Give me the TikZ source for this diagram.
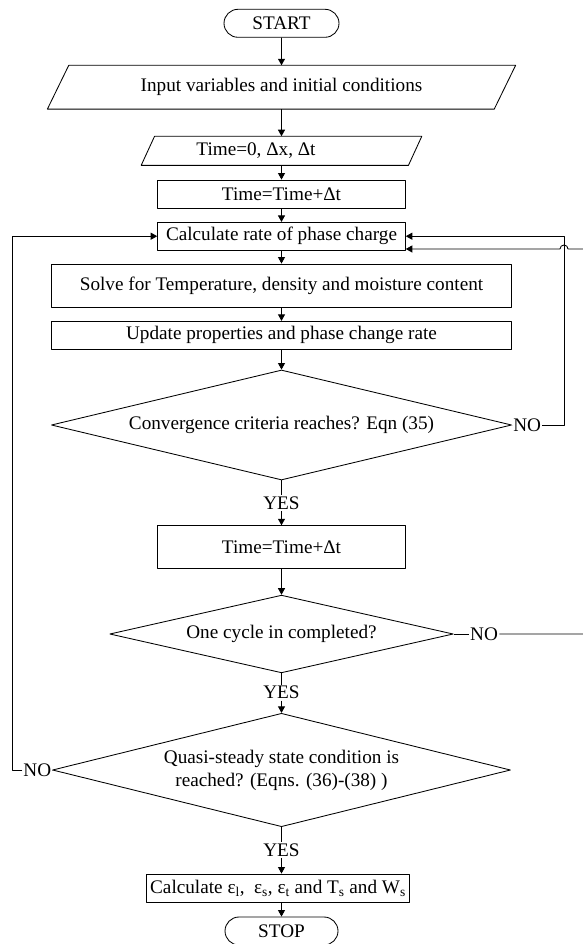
\documentclass[tikz,border=0pt]{standalone}
\usepackage{fontspec}
\setmainfont{Liberation Serif}
\usetikzlibrary{arrows.meta,shapes.geometric,shapes.misc}
\begin{document}
\begin{tikzpicture}[x=1pt, y=-1pt, font=\fontsize{19.2}{23}\selectfont, line join=round, line width=0.85pt, >={Triangle[length=6.5pt,width=7pt]},
	term/.style={draw, rounded rectangle, minimum width=115pt, minimum height=28pt, inner sep=0pt},
	proc/.style={draw, rectangle, minimum height=28pt, inner sep=0pt},
	io/.style={rectangle, minimum height=28pt, inner sep=0pt},
	cond/.style={draw, diamond, inner sep=0pt, align=center},
	lab/.style={inner sep=1pt}]
	\useasboundingbox (0,0) rectangle (582,944);
	\node[term] (start) at (281.5,23.3) {START};
	\node[io, minimum width=446pt, minimum height=43pt] (input) at (281.5,87.2) {Input variables and initial conditions};
	\node[io, minimum width=266.4pt, minimum height=28.3pt, label={[xshift=-25.5pt]center:Time=0, Δx, Δt}] (init) at (281.5,150.8) {};
	\foreach \n/\s in {input/10.7,init/6.7}
	\draw ([xshift=\s pt]\n.north west)--([xshift=\s pt]\n.north east)--([xshift=-\s pt]\n.south east)--([xshift=-\s pt]\n.south west)--cycle;
	\node[proc, minimum width=247.7pt] (time1) at (281.5,194) {Time=Time+Δt};
	\node[proc, minimum width=247.7pt, minimum height=27.7pt] (rate) at (281.5,236.2) {Calculate rate of phase charge};
	\node[proc, minimum width=459.8pt, minimum height=43pt] (solve) at (281.5,285.5) {Solve for Temperature, density and moisture content};
	\node[proc, minimum width=459.8pt] (update) at (281.5,335.3) {Update properties and phase change rate};
	\node[cond, minimum width=460.3pt, minimum height=110pt, aspect=4.18] (conv) at (281.5,425) {Convergence criteria reaches? Eqn (35)};
	\node[lab] (yes1) at (281.5,503.3) {YES};
	\node[proc, minimum width=247.7pt, minimum height=42.6pt] (time2) at (281.5,547) {Time=Time+Δt};
	\node[cond, minimum width=343.5pt, minimum height=77.7pt, aspect=4.4] (cycle) at (281.5,634) {One cycle in completed?};
	\node[lab] (yes2) at (281.5,692.7) {YES};
	\node[cond, minimum width=458pt, minimum height=113.4pt, aspect=4.03] (steady) at (281.5,770) {Quasi-steady state condition is\\reached? (Eqns. (36)-(38) )};
	\node[lab] (yes3) at (281.5,850) {YES};
	\node[proc, minimum width=262.6pt] (calc) at (278,888) {Calculate ε\textsubscript{l},\ \ ε\textsubscript{s}, ε\textsubscript{t} and T\textsubscript{s} and W\textsubscript{s}};
	\node[term, minimum width=113pt] (stop) at (281.5,931) {STOP};
	\node[lab, anchor=west, inner sep=0.8pt] (no1) at (conv.east) {NO};
	\node[lab] (no2) at (484,634) {NO};
	\node[lab, anchor=east, inner sep=0.5pt] (no3) at (steady.west) {NO};
	\path (564,425) coordinate (c1) (588,634) coordinate (c2) (12.3,770) coordinate (c3)
	([yshift=1.5pt]rate.south east) coordinate (in2);
	\foreach \a/\b in {start/input,input/init,init/time1,time1/rate,rate/solve,solve/update,update/conv,yes1/time2,time2/cycle,yes2/steady}
	\draw[->] (\a)--(\b);
	\foreach \a/\b in {conv/yes1,cycle/yes2,steady/yes3,conv/no1,cycle/no2,steady/no3}
	\draw (\a)--(\b);
	\draw[->] (yes3)--(yes3 |- calc.north);
	\draw[->] (calc.south -| stop.north)--(stop);
	\draw[->] (no1)--(c1) |- (rate);
	\draw[->] (no2)--(c2) |- ([xshift=4pt]c1 |- in2) arc[start angle=0, end angle=180, radius=4pt]--(in2);
	\draw[->] (no3)--(c3) |- (rate);
\end{tikzpicture}
\end{document}
